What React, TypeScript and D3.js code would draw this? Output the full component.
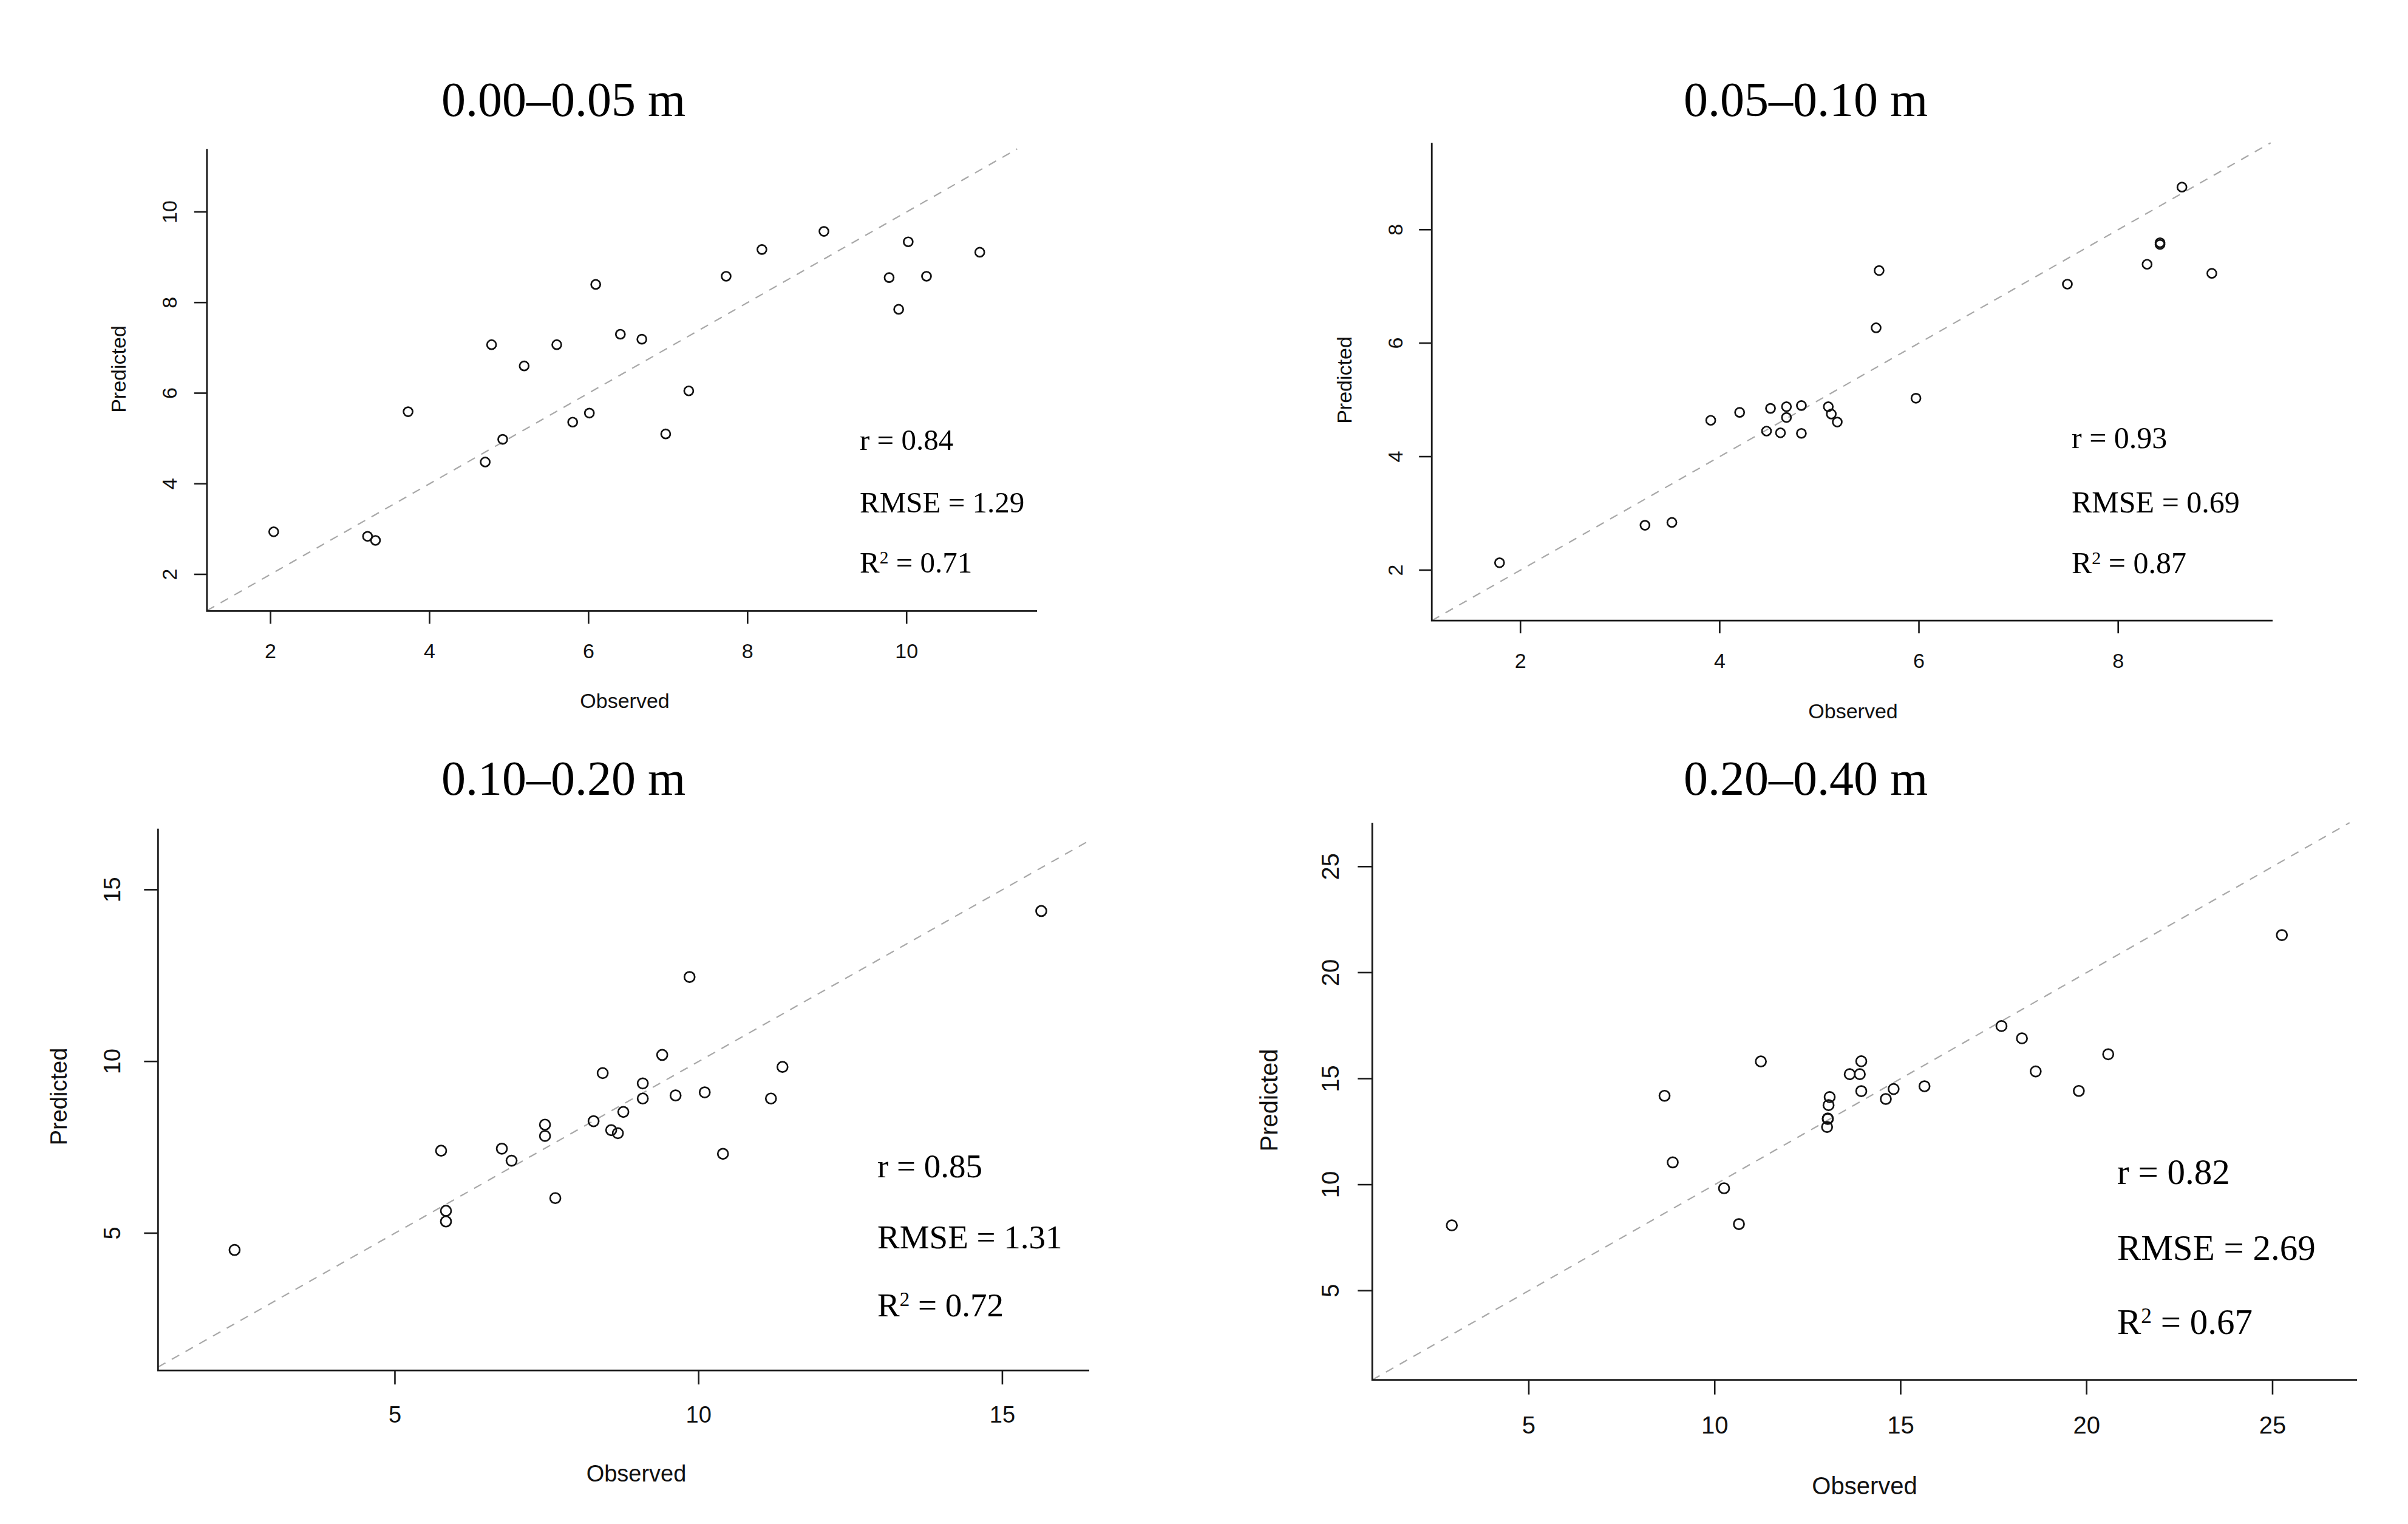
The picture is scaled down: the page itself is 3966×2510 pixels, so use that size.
import React from 'react';
import * as d3 from 'd3';

// ---------- data ----------
const titles = ['0.00–0.05 m', '0.05–0.10 m', '0.10–0.20 m', '0.20–0.40 m'];

const obs1 = [2.04, 3.22, 3.32, 3.73, 4.70, 4.78, 4.92, 5.19, 5.60, 5.80, 6.01, 6.09, 6.40, 6.67, 6.97, 7.26, 7.73, 8.18, 8.96, 9.78, 9.90, 10.02, 10.25, 10.92];
const pred1 = [2.94, 2.84, 2.75, 5.59, 4.48, 7.07, 4.98, 6.60, 7.07, 5.36, 5.56, 8.40, 7.30, 7.19, 5.10, 6.05, 8.58, 9.17, 9.57, 8.55, 7.85, 9.34, 8.58, 9.11];

const obs2 = [1.79, 3.25, 3.52, 3.91, 4.20, 4.47, 4.51, 4.61, 4.67, 4.67, 4.82, 4.82, 5.09, 5.12, 5.18, 5.57, 5.60, 5.97, 7.49, 8.29, 8.42, 8.42, 8.64, 8.94];
const pred2 = [2.13, 2.79, 2.84, 4.64, 4.78, 4.45, 4.85, 4.42, 4.88, 4.69, 4.90, 4.41, 4.88, 4.75, 4.61, 6.27, 7.28, 5.03, 7.04, 7.39, 7.77, 7.74, 8.75, 7.23];

const obs3 = [2.36, 5.76, 5.84, 5.84, 6.76, 6.92, 7.47, 7.47, 7.64, 8.27, 8.42, 8.56, 8.67, 8.76, 9.08, 9.08, 9.40, 9.62, 9.85, 10.10, 10.40, 11.19, 11.38, 15.64];
const pred3 = [4.51, 7.40, 5.65, 5.34, 7.46, 7.11, 8.16, 7.83, 6.02, 8.26, 9.66, 8.00, 7.91, 8.53, 9.36, 8.92, 10.19, 9.01, 12.46, 9.10, 7.31, 8.92, 9.84, 14.38];

const obs4 = [2.93, 8.65, 8.87, 10.25, 10.65, 11.24, 13.09, 13.06, 13.04, 13.04, 13.02, 13.63, 13.94, 13.90, 13.94, 14.60, 14.81, 15.64, 17.71, 18.26, 18.63, 19.79, 20.58, 25.25];
const pred4 = [8.08, 14.19, 11.05, 9.83, 8.14, 15.81, 14.13, 13.75, 13.12, 13.10, 12.72, 15.21, 15.82, 15.21, 14.41, 14.04, 14.51, 14.64, 17.48, 16.90, 15.34, 14.42, 16.15, 21.77];

const xTicks1 = [2, 4, 6, 8, 10];
const yTicks1 = [2, 4, 6, 8, 10];
const xTicks2 = [2, 4, 6, 8];
const yTicks2 = [2, 4, 6, 8];
const xTicks3 = [5, 10, 15];
const yTicks3 = [5, 10, 15];
const xTicks4 = [5, 10, 15, 20, 25];
const yTicks4 = [5, 10, 15, 20, 25];

const rValues = ['0.84', '0.93', '0.85', '0.82'];
const rmseValues = ['1.29', '0.69', '1.31', '2.69'];
const r2Values = ['0.71', '0.87', '0.72', '0.67'];

// ---------- layout ----------
type Layout = {
  left: number; right: number; top: number; bottom: number;
  xDom: [number, number]; yDom: [number, number];
  tickLen: number; labelFs: number; yTickX: number; xTickY: number;
  obsX: number; obsY: number; predX: number; predY: number;
  titleX: number; titleY: number;
  statX: number; statY: [number, number, number]; statFs: number;
  r: number;
};

const layouts: Layout[] = [
  {
    left: 340.8, right: 1708, top: 245.3, bottom: 1006.4,
    xDom: [1.2, 11.64], yDom: [1.19, 11.39],
    tickLen: 21, labelFs: 34, yTickX: 279, xTickY: 1071.7,
    obsX: 1029, obsY: 1154, predX: 195, predY: 608,
    titleX: 928, titleY: 190.5,
    statX: 1416, statY: [741, 843.8, 942.8], statFs: 49, r: 7.5,
  },
  {
    left: 2358.2, right: 3743, top: 235.3, bottom: 1022.1,
    xDom: [1.11, 9.55], yDom: [1.11, 9.53],
    tickLen: 21, labelFs: 34, yTickX: 2298, xTickY: 1087.5,
    obsX: 3052, obsY: 1171, predX: 2214, predY: 626,
    titleX: 2974, titleY: 190.5,
    statX: 3412, statY: [738, 843.5, 943.5], statFs: 50, r: 7.5,
  },
  {
    left: 260.3, right: 1794, top: 1364.7, bottom: 2257.2,
    xDom: [1.10, 16.43], yDom: [1.0, 16.78],
    tickLen: 23, labelFs: 38, yTickX: 184, xTickY: 2329,
    obsX: 1048, obsY: 2426, predX: 96, predY: 1806,
    titleX: 928, titleY: 1308.5,
    statX: 1445, statY: [1939, 2055.5, 2167.7], statFs: 55, r: 8.5,
  },
  {
    left: 2260.1, right: 3882, top: 1355, bottom: 2272.7,
    xDom: [0.79, 27.27], yDom: [0.79, 27.07],
    tickLen: 24, labelFs: 40, yTickX: 2190.6, xTickY: 2347,
    obsX: 3071, obsY: 2446.5, predX: 2090, predY: 1812,
    titleX: 2974, titleY: 1308.5,
    statX: 3487, statY: [1950.4, 2075, 2196.6], statFs: 59, r: 8.5,
  },
];

const SANS = '"Liberation Sans", Arial, sans-serif';
const SERIF = '"Liberation Serif", "Times New Roman", serif';

type PanelProps = {
  obs: number[]; pred: number[]; xTicks: number[]; yTicks: number[];
  title: string; r: string; rmse: string; r2: string; L: Layout;
};

function Panel({ obs, pred, xTicks, yTicks, title, r, rmse, r2, L }: PanelProps) {
  const x = d3.scaleLinear().domain(L.xDom).range([L.left, L.right]);
  const y = d3.scaleLinear().domain(L.yDom).range([L.bottom, L.top]);
  const lo = Math.max(L.xDom[0], L.yDom[0]);
  const hi = Math.min(L.xDom[1], L.yDom[1]);
  const diag = d3.line()([[x(lo), y(lo)], [x(hi), y(hi)]]) || '';
  const fs = L.labelFs;
  const sf = L.statFs;
  return (
    <g>
      <text x={L.titleX} y={L.titleY} fontFamily={SERIF} fontSize={80} textAnchor="middle" fill="#000">{title}</text>
      <path d={diag} stroke="#a8a8a8" strokeWidth={2.2} strokeDasharray="14 12" fill="none" />
      <path d={`M${L.left},${L.top}V${L.bottom}H${L.right}`} stroke="#1a1a1a" strokeWidth={2.8} fill="none" />
      {xTicks.map((t) => (
        <g key={'x' + t}>
          <line x1={x(t)} x2={x(t)} y1={L.bottom} y2={L.bottom + L.tickLen} stroke="#1a1a1a" strokeWidth={2.6} />
          <text x={x(t)} y={L.xTickY + 0.358 * fs} fontFamily={SANS} fontSize={fs} textAnchor="middle" fill="#111">{t}</text>
        </g>
      ))}
      {yTicks.map((t) => (
        <g key={'y' + t}>
          <line x1={L.left - L.tickLen} x2={L.left} y1={y(t)} y2={y(t)} stroke="#1a1a1a" strokeWidth={2.6} />
          <text transform={`translate(${L.yTickX + 0.358 * fs},${y(t)}) rotate(-90)`} fontFamily={SANS} fontSize={fs} textAnchor="middle" fill="#111">{t}</text>
        </g>
      ))}
      <text x={L.obsX} y={L.obsY + 0.36 * fs} fontFamily={SANS} fontSize={fs} textAnchor="middle" fill="#111">Observed</text>
      <text transform={`translate(${L.predX + 0.36 * fs},${L.predY}) rotate(-90)`} fontFamily={SANS} fontSize={fs} textAnchor="middle" fill="#111">Predicted</text>
      {obs.map((o, i) => (
        <circle key={i} cx={x(o)} cy={y(pred[i])} r={L.r} fill="none" stroke="#111" strokeWidth={2.7} />
      ))}
      <text x={L.statX} y={L.statY[0]} fontFamily={SERIF} fontSize={sf} fill="#000">{`r = ${r}`}</text>
      <text x={L.statX} y={L.statY[1]} fontFamily={SERIF} fontSize={sf} fill="#000">{`RMSE = ${rmse}`}</text>
      <text x={L.statX} y={L.statY[2]} fontFamily={SERIF} fontSize={sf} fill="#000">
        R<tspan fontSize={sf * 0.6} dy={-sf * 0.3}>2</tspan><tspan dy={sf * 0.3}>{` = ${r2}`}</tspan>
      </text>
    </g>
  );
}

export default function App() {
  const sets = [
    { obs: obs1, pred: pred1, xTicks: xTicks1, yTicks: yTicks1 },
    { obs: obs2, pred: pred2, xTicks: xTicks2, yTicks: yTicks2 },
    { obs: obs3, pred: pred3, xTicks: xTicks3, yTicks: yTicks3 },
    { obs: obs4, pred: pred4, xTicks: xTicks4, yTicks: yTicks4 },
  ];
  return (
    <svg width={3966} height={2510} style={{ position: 'absolute', left: 0, top: 0, background: '#fff' }}>
      <rect x={0} y={0} width={3966} height={2510} fill="#fff" />
      {sets.map((s, i) => (
        <Panel key={i} {...s} title={titles[i]} r={rValues[i]} rmse={rmseValues[i]} r2={r2Values[i]} L={layouts[i]} />
      ))}
    </svg>
  );
}
